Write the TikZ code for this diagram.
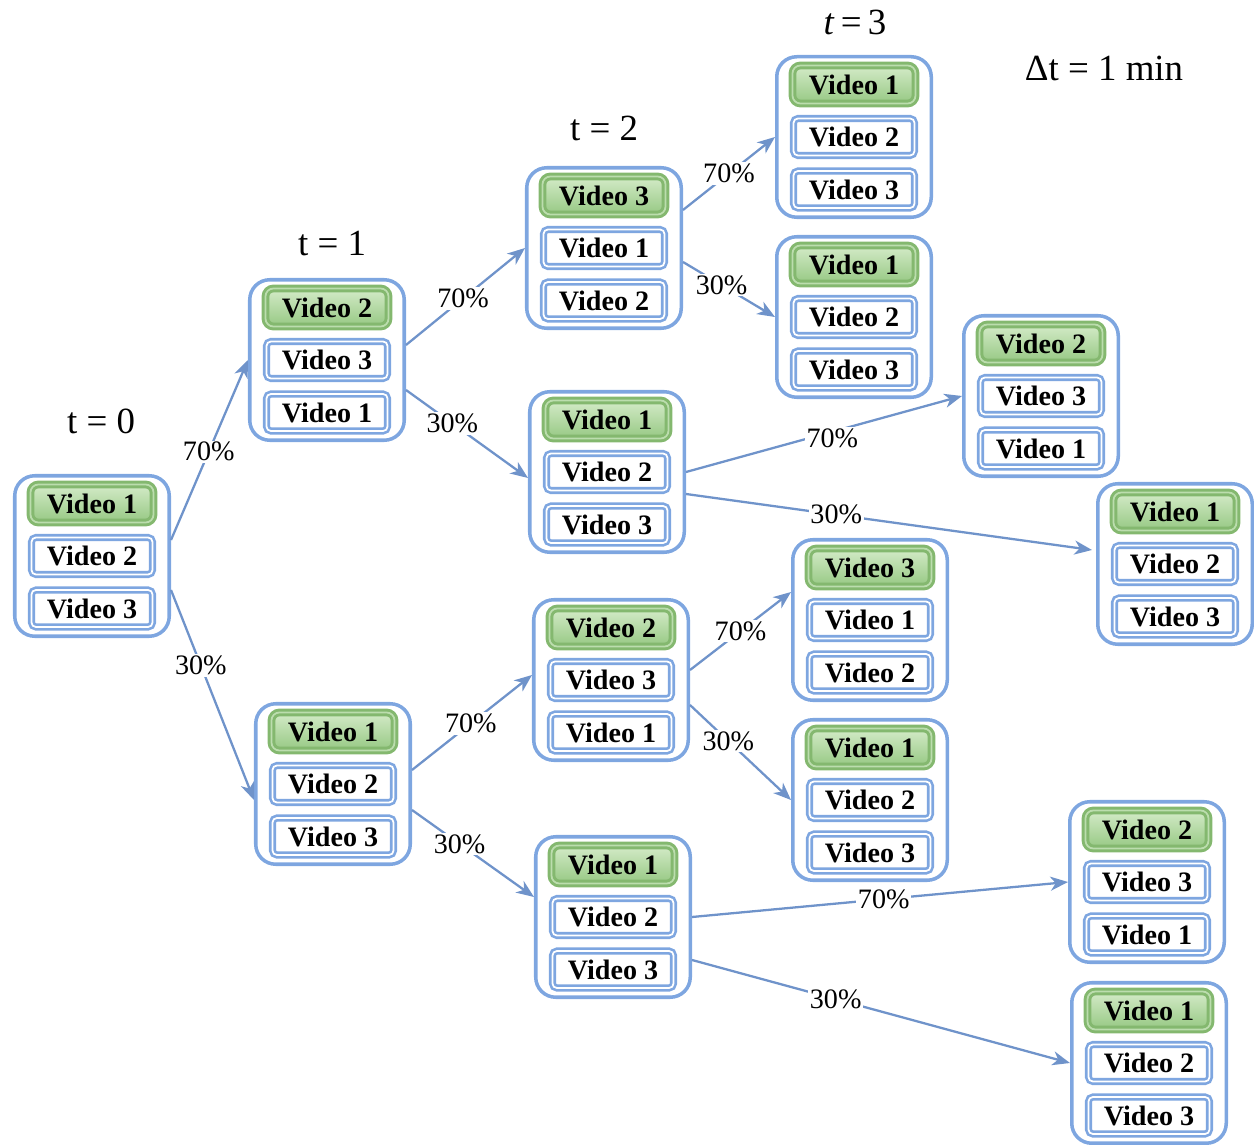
\documentclass[tikz,border=0pt]{standalone}
\usepackage{fontspec}
\setmainfont{Liberation Serif}
\usetikzlibrary{calc,arrows.meta}
\definecolor{frameblue}{HTML}{7EA6E0}
\definecolor{linkblue}{HTML}{6F93CA}
\definecolor{vidgreen}{HTML}{84B86F}
\definecolor{vidgreenlt}{HTML}{BCDDAE}
\definecolor{greentop}{HTML}{D4EBC8}
\definecolor{greenbot}{HTML}{96C883}
\tikzset{
	stateframe/.style={draw=frameblue, line width=2pt, rounded corners=0.4cm, minimum width=3.09cm, minimum height=3.21cm, inner sep=0pt},
	video/.style={draw=frameblue, double=white, line width=1.5pt, double distance=1pt, rounded corners=2.5pt, minimum width=2.42cm, minimum height=0.74cm, inner sep=0pt, fill=white, font=\fontsize{16}{18}\selectfont\bfseries},
	topvideo/.style={video, draw=vidgreen, double=vidgreenlt, line width=1.7pt, top color=greentop, bottom color=greenbot, rounded corners=4.5pt, minimum width=2.46cm, minimum height=0.76cm},
	link/.style={draw=linkblue, line width=1.3pt, -{Stealth[length=10pt, width=8pt, inset=3pt]}},
	pct/.style={fill=white, inner sep=1pt, font=\fontsize{16}{18}\selectfont},
	steplabel/.style={font=\fontsize{21}{24}\selectfont}
}
\def\statebox(#1)(#2)#3#4#5{%
	\node[stateframe] (#1) at (#2) {};
	\node[topvideo] (#1-a) at ($(#1)+(0,1.05)$) {Video #3};
	\node[video] (#1-b) at (#1) {Video #4};
	\node[video] (#1-c) at ($(#1)+(0,-1.05)$) {Video #5};
}

\begin{document}
\begin{tikzpicture}
	%%%%% START %%%%%
	\useasboundingbox (0, 0) rectangle (25.08, 22.88);
	
	\node[steplabel] (lt0) at (2.02, 14.46) {t = 0};
	\node[steplabel] (lt1) at (6.64, 18.00) {t = 1};
	\node[steplabel] (lt2) at (12.08, 20.32) {t = 2};
	\node[steplabel] (lt3) at (17.10, 22.44) {\textit{t}\,=\,3};
	\node[steplabel] (ldt) at (22.08, 21.52) {Δt = 1 min};
	
	\statebox(s0)(1.84, 11.76){1}{2}{3}
	
	\statebox(s1a)(6.54, 15.68){2}{3}{1}
	\statebox(s1b)(6.66, 7.20){1}{2}{3}
	
	\statebox(s2a)(12.08, 17.92){3}{1}{2}
	\statebox(s2b)(12.14, 13.44){1}{2}{3}
	\statebox(s2c)(12.22, 9.28){2}{3}{1}
	\statebox(s2d)(12.26, 4.54){1}{2}{3}
	
	\statebox(s3a)(17.08, 20.14){1}{2}{3}
	\statebox(s3b)(17.08, 16.54){1}{2}{3}
	\statebox(s3c)(20.82, 14.96){2}{3}{1}
	\statebox(s3d)(23.50, 11.60){1}{2}{3}
	\statebox(s3e)(17.40, 10.48){3}{1}{2}
	\statebox(s3f)(17.40, 6.88){1}{2}{3}
	\statebox(s3g)(22.94, 5.24){2}{3}{1}
	\statebox(s3h)(22.98, 1.62){1}{2}{3}
	
	\draw[link] ([yshift=0.32cm]s0.east) -- node[pct, pos=0.49] {70\%} (s1a.west);
	\draw[link] ([yshift=-0.68cm]s0.east) -- node[pct, pos=0.36] {30\%} ([yshift=-0.32cm]s1b.west);
	
	\draw[link] ([yshift=0.3cm]s1a.east) -- node[pct, pos=0.48] {70\%} (s2a.west);
	\draw[link] ([yshift=-0.6cm]s1a.east) -- node[pct, pos=0.38] {30\%} ([yshift=-0.12cm]s2b.west);
	\draw[link] ([yshift=0.28cm]s1b.east) -- node[pct, pos=0.49] {70\%} ([yshift=0.1cm]s2c.west);
	\draw[link] ([yshift=-0.52cm]s1b.east) -- node[pct, pos=0.39] {30\%} ([yshift=0.4cm]s2d.west);
	
	\draw[link] ([yshift=0.76cm]s2a.east) -- node[pct, pos=0.5] {70\%} (s3a.west);
	\draw[link] ([yshift=-0.28cm]s2a.east) -- node[pct, pos=0.42] {30\%} (s3b.west);
	\draw[link] (s2b.east) -- node[pct, pos=0.53, yshift=-4pt] {70\%} (s3c.west);
	\draw[link] ([yshift=-0.44cm]s2b.east) -- node[pct, pos=0.37] {30\%} ([xshift=-0.08cm, yshift=0.28cm]s3d.west);
	\draw[link] ([yshift=0.2cm]s2c.east) -- node[pct, pos=0.5] {70\%} ([yshift=0.56cm]s3e.west);
	\draw[link] ([yshift=-0.5cm]s2c.east) -- node[pct, pos=0.38] {30\%} (s3f.west);
	\draw[link] (s2d.east) -- node[pct, pos=0.51] {70\%} (s3g.west);
	\draw[link] ([yshift=-0.86cm]s2d.east) -- node[pct, pos=0.38] {30\%} (s3h.west);
	
	%%%%% END %%%%%
\end{tikzpicture}
\end{document}
